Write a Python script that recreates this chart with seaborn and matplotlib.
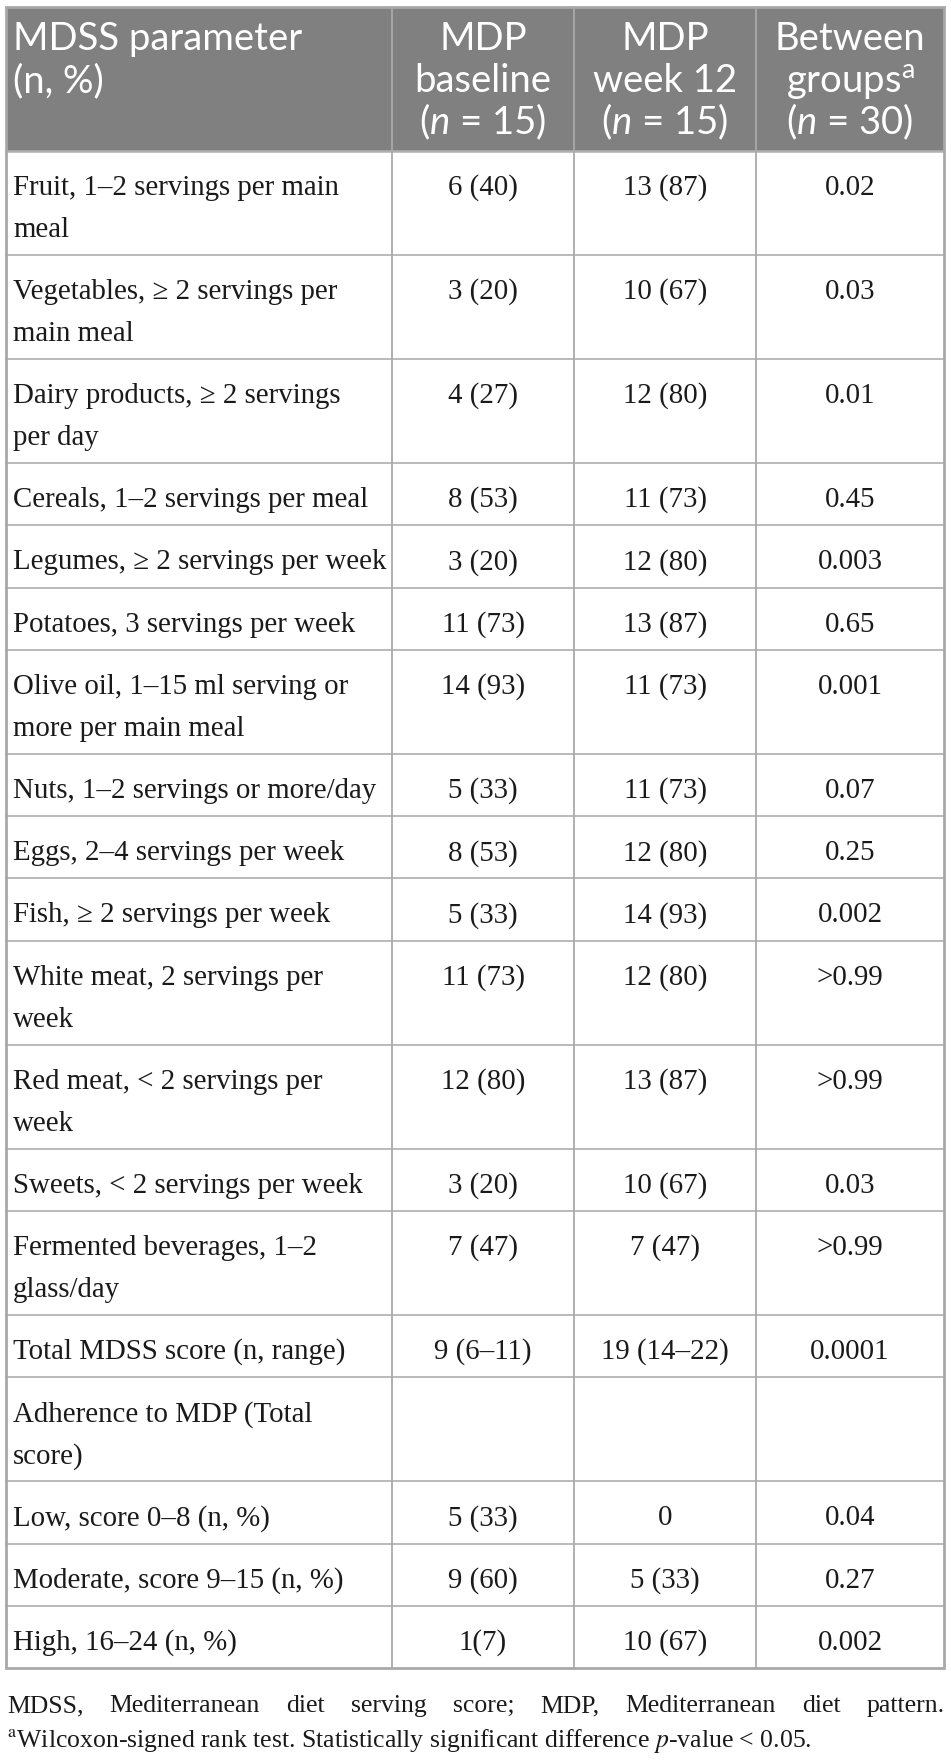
import matplotlib
matplotlib.use("Agg")
import matplotlib.pyplot as plt
import seaborn as sns

# table contents
params = [
    "Fruit, 1–2 servings per main\nmeal",
    "Vegetables, ≥ 2 servings per\nmain meal",
    "Dairy products, ≥ 2 servings\nper day",
    "Cereals, 1–2 servings per meal",
    "Legumes, ≥ 2 servings per week",
    "Potatoes, 3 servings per week",
    "Olive oil, 1–15 ml serving or\nmore per main meal",
    "Nuts, 1–2 servings or more/day",
    "Eggs, 2–4 servings per week",
    "Fish, ≥ 2 servings per week",
    "White meat, 2 servings per\nweek",
    "Red meat, < 2 servings per\nweek",
    "Sweets, < 2 servings per week",
    "Fermented beverages, 1–2\nglass/day",
    "Total MDSS score (n, range)",
    "Adherence to MDP (Total\nscore)",
    "Low, score 0–8 (n, %)",
    "Moderate, score 9–15 (n, %)",
    "High, 16–24 (n, %)",
]
baseline = ["6 (40)", "3 (20)", "4 (27)", "8 (53)", "3 (20)", "11 (73)", "14 (93)",
            "5 (33)", "8 (53)", "5 (33)", "11 (73)", "12 (80)", "3 (20)", "7 (47)",
            "9 (6–11)", "", "5 (33)", "9 (60)", "1(7)"]
week12 = ["13 (87)", "10 (67)", "12 (80)", "11 (73)", "12 (80)", "13 (87)", "11 (73)",
          "11 (73)", "12 (80)", "14 (93)", "12 (80)", "13 (87)", "10 (67)", "7 (47)",
          "19 (14–22)", "", "0", "5 (33)", "10 (67)"]
pvals = ["0.02", "0.03", "0.01", "0.45", "0.003", "0.65", "0.001", "0.07", "0.25",
         "0.002", ">0.99", ">0.99", "0.03", ">0.99", "0.0001", "", "0.04", "0.27", "0.002"]

header_first = ["MDSS parameter", "(n, %)"]
header_cols = [
    ["MDP", "baseline", r"($\mathit{n}$ = 15)"],
    ["MDP", "week 12", r"($\mathit{n}$ = 15)"],
    ["Between", r"groups$^{\mathrm{a}}$", r"($\mathit{n}$ = 30)"],
]
note1 = "MDSS, Mediterranean diet serving score; MDP, Mediterranean diet pattern."
note2 = r"$^{\mathrm{a}}$Wilcoxon-signed rank test. Statistically significant difference $\mathit{p}$-value < 0.05."

sns.set_theme(style="white")
plt.rcParams['font.family'] = ['Liberation Serif', 'DejaVu Serif']
plt.rcParams['mathtext.fontset'] = 'custom'
plt.rcParams['mathtext.rm'] = 'Lato'
plt.rcParams['mathtext.it'] = 'Lato:italic'

W, H = 951, 1760
fig = plt.figure(figsize=(W / 100, H / 100), dpi=100)
ax = fig.add_axes([0, 0, 1, 1])
ax.set_xlim(0, W)
ax.set_ylim(H, 0)
ax.axis('off')

col_x = [6, 392, 574, 756, 944]
top, head_bot = 7, 151
line_h = 41.7
grid_c = '#b4b4b4'
body_size = 20.8
ink = '#1a1a1a'

# header band
ax.add_patch(plt.Rectangle((col_x[0], top), col_x[-1] - col_x[0], head_bot - top,
                           facecolor='#808080', edgecolor='none', zorder=1))
hfont = dict(family=['Lato', 'DejaVu Sans'], size=27.5, color='white')
for i, s in enumerate(header_first):
    ax.text(13, 50 + 42 * i, s, ha='left', va='baseline', **hfont)
for c, lines in enumerate(header_cols):
    cx = (col_x[c + 1] + col_x[c + 2]) / 2
    for i, s in enumerate(lines):
        ax.text(cx, 50 + 42 * i, s, ha='center', va='baseline', **hfont)

# body rows
y = head_bot
bounds = [y]
for k, lab in enumerate(params):
    n = lab.count("\n") + 1
    h = 20.6 + line_h * n
    for i, s in enumerate(lab.split("\n")):
        ax.text(13, y + 44 + 42 * i, s, ha='left', va='baseline', size=body_size, color=ink)
    for c, v in enumerate([baseline[k], week12[k], pvals[k]]):
        cx = (col_x[c + 1] + col_x[c + 2]) / 2
        ax.text(cx, y + 44, v, ha='center', va='baseline', size=body_size, color=ink)
    y += h
    bounds.append(y)
bottom = y

# grid
for b in bounds[1:-1]:
    ax.plot([col_x[0], col_x[-1]], [b, b], color=grid_c, lw=1.3, zorder=2)
ax.plot([col_x[0], col_x[-1]], [head_bot, head_bot], color='#b0b0b0', lw=1.8, zorder=2)
for xv in col_x[1:-1]:
    ax.plot([xv, xv], [top, bottom], color='#aaaaaa', lw=1.3, zorder=2)
ax.add_patch(plt.Rectangle((col_x[0], top), col_x[-1] - col_x[0], bottom - top,
                           facecolor='none', edgecolor='#a8a8a8', lw=2.0, zorder=3))

# footnotes, first line justified
fig.canvas.draw()
r = fig.canvas.get_renderer()
words = note1.split()
objs = [ax.text(0, 1712, w, ha='left', va='baseline', size=18.5, color=ink) for w in words]
widths = [t.get_window_extent(r).width for t in objs]
left, right = 7, 945
gap = (right - left - sum(widths)) / (len(words) - 1)
xpos = left
for t, w in zip(objs, widths):
    t.set_x(xpos)
    xpos += w + gap
ax.text(left, 1747, note2, ha='left', va='baseline', size=18.5, color=ink,
        math_fontfamily='stix')

fig.savefig("out.png", dpi=100, facecolor='white')
